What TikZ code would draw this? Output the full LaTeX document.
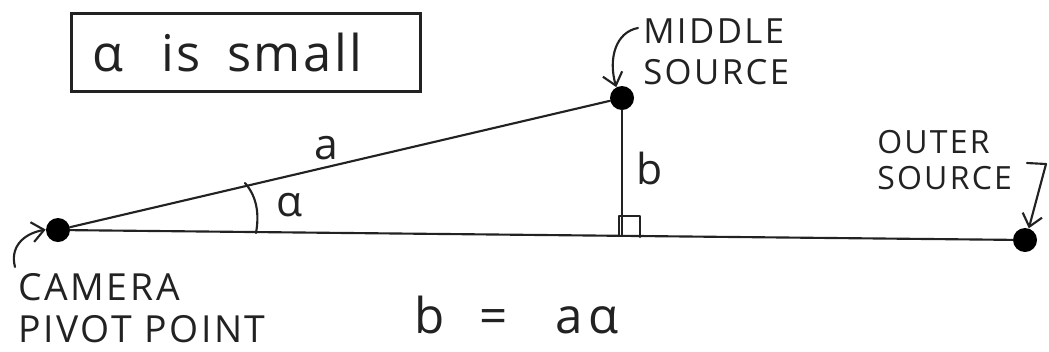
\documentclass[tikz,border=0pt]{standalone}
\usepackage{fontspec}
\setmainfont{Open Sans}
\newfontfamily\capfont[LetterSpace=7]{Open Sans}
\newfontfamily\boxfont[LetterSpace=5]{Open Sans}
\usetikzlibrary{arrows.meta}
\definecolor{ink}{HTML}{222222}
\tikzset{
  inkline/.style={draw=ink, line width=1.6pt, line cap=round, line join=round},
  dot/.style={circle, fill=black, draw=none, minimum size=18pt, inner sep=0pt},
  arr/.style={inkline, -{Straight Barb[length=9pt,width=15pt,line width=1.6pt]}},
  captxt/.style={text=ink, font=\capfont\fontsize{26}{28}\selectfont, inner sep=0pt, align=left},
  lbl/.style={text=ink, inner sep=0pt},
}
\begin{document}
\begin{tikzpicture}[x=0.75pt,y=-0.75pt]
\useasboundingbox (0,0) rectangle (1049,351);
% box
\node[draw=ink, line width=2.2pt, minimum width=252.75pt, minimum height=58.5pt, text width=230pt, align=left, inner xsep=16pt, anchor=north west, text=ink, font=\boxfont\fontsize{38}{42}\selectfont] (box) at (70,12) {α\hspace{28pt}is\hspace{20pt}small};
% points
\node[dot] (cam) at (58,230) {};
\node[dot] (mid) at (622,98) {};
\node[dot] (out) at (1025,240) {};
\coordinate (foot) at (622,236);
% lines
\draw[inkline] (cam) -- (mid);
\draw[inkline] (cam) -- (out);
\draw[inkline] (mid) -- (foot);
% right angle
\draw[inkline] (619,236) -- (619,216) -- (640,216) -- (640,237);
% angle arc
\draw[inkline] (245,183) .. controls (258,198) and (259,216) .. (256,233);
% labels on figure
\node[lbl, font=\fontsize{32}{34}\selectfont] (alab) at (326,148) {a};
\node[lbl, font=\fontsize{32}{34}\selectfont] (blab) at (650,168) {b};
\node[lbl, font=\fontsize{32}{34}\selectfont] (alpha) at (290,205) {α};
% captions
\node[captxt, anchor=north west] (midlab) at (643,18) {MIDDLE\\[3pt]SOURCE};
\node[captxt, anchor=north west, font=\capfont\fontsize{24}{26}\selectfont] (outlab) at (877,130) {OUTER\\[1pt]SOURCE};
\node[captxt, anchor=north west, font=\capfont\fontsize{28}{30}\selectfont] (camlab) at (18,273) {CAMERA\\[2pt]PIVOT POINT};
\node[lbl, anchor=base west, font=\fontsize{37}{40}\selectfont] (eq) at (414,333) {b\hspace{26pt}=\hspace{36pt}a\hspace{4pt}α};
% arrows
\coordinate (ma) at (638,28);
\coordinate (oa) at (1027,163);
\coordinate (ob) at (1046,164);
\coordinate (ca) at (15,267);
\draw[arr] (ma) .. controls (616,32) and (608,58) .. (mid.118);
\draw[arr] (oa) -- (ob) -- (out.72);
\draw[arr] (ca) .. controls (10,248) and (22,234) .. (cam.178);
\end{tikzpicture}
\end{document}
